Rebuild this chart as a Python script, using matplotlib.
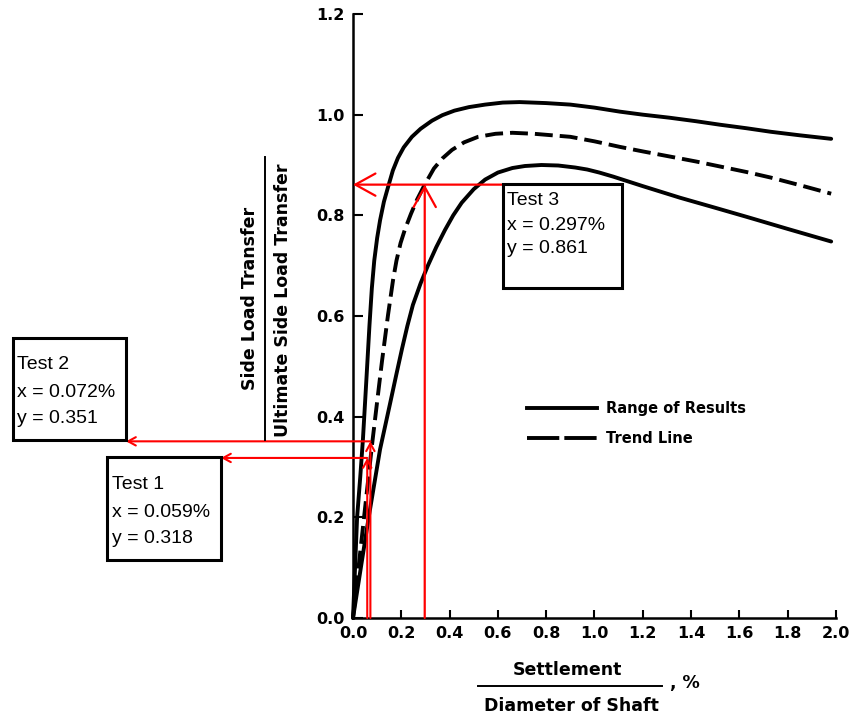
import matplotlib
matplotlib.use("Agg")
import matplotlib.pyplot as plt
from matplotlib.lines import Line2D
from matplotlib.patches import Rectangle

# ---------------- data ----------------
upper_x = [0, 0.017, 0.030, 0.041, 0.055, 0.068, 0.078, 0.088, 0.100, 0.112, 0.128, 0.145,
           0.165, 0.186, 0.21, 0.244, 0.28, 0.327, 0.37, 0.42, 0.48, 0.547, 0.62, 0.69,
           0.80, 0.90, 1.0, 1.105, 1.2, 1.31, 1.42, 1.52, 1.63, 1.73, 1.85, 1.98]
upper_y = [0, 0.20, 0.28, 0.354, 0.47, 0.58, 0.655, 0.71, 0.755, 0.79, 0.827, 0.856,
           0.889, 0.914, 0.935, 0.956, 0.972, 0.988, 0.999, 1.008, 1.015, 1.02, 1.024, 1.025,
           1.023, 1.02, 1.014, 1.006, 1.0, 0.994, 0.987, 0.980, 0.973, 0.966, 0.959, 0.952]

trend_x = [0, 0.04, 0.079, 0.10, 0.12, 0.145, 0.166, 0.18, 0.197, 0.215, 0.24, 0.265,
           0.297, 0.335, 0.37, 0.41, 0.46, 0.518, 0.59, 0.66, 0.75, 0.90, 1.0, 1.105,
           1.2, 1.31, 1.42, 1.52, 1.63, 1.73, 1.85, 1.98]
trend_y = [0, 0.175, 0.345, 0.43, 0.51, 0.602, 0.672, 0.71, 0.745, 0.772, 0.803, 0.831,
           0.861, 0.893, 0.913, 0.930, 0.945, 0.956, 0.962, 0.964, 0.962, 0.956, 0.947, 0.936,
           0.927, 0.917, 0.907, 0.897, 0.886, 0.875, 0.86, 0.843]

lower_x = [0, 0.065, 0.112, 0.153, 0.18, 0.203, 0.225, 0.248, 0.28, 0.31, 0.345, 0.381,
           0.415, 0.45, 0.50, 0.547, 0.60, 0.66, 0.712, 0.78, 0.85, 0.92, 0.97, 1.02,
           1.077, 1.2, 1.354, 1.5, 1.63, 1.8, 1.98]
lower_y = [0, 0.20, 0.335, 0.425, 0.485, 0.535, 0.58, 0.622, 0.665, 0.70, 0.737, 0.771,
           0.80, 0.825, 0.852, 0.871, 0.885, 0.894, 0.898, 0.90, 0.899, 0.895, 0.891, 0.885,
           0.877, 0.858, 0.835, 0.815, 0.797, 0.773, 0.748]

test_names = ["Test 1", "Test 2", "Test 3"]
test_x = [0.059, 0.072, 0.297]
test_y = [0.318, 0.351, 0.861]

x_ticks = [0.0, 0.2, 0.4, 0.6, 0.8, 1.0, 1.2, 1.4, 1.6, 1.8, 2.0]
y_ticks = [0.0, 0.2, 0.4, 0.6, 0.8, 1.0, 1.2]
legend_labels = ["Range of Results", "Trend Line"]

# ---------------- figure ----------------
W, H = 854, 721
fig = plt.figure(figsize=(W / 100, H / 100), dpi=100)
fig.patch.set_facecolor("white")

def fx(px):
    return px / W

def fy(py):
    return 1 - py / H

x0p, x1p, y0p, y1p = 353, 836, 618, 14
ax = fig.add_axes([fx(x0p), fy(y0p), (x1p - x0p) / W, (y0p - y1p) / H])
ax.set_xlim(0, 2.0)
ax.set_ylim(0, 1.2)
for s in ["top", "right"]:
    ax.spines[s].set_visible(False)
for s in ["left", "bottom"]:
    ax.spines[s].set_linewidth(1.8)
ax.set_xticks(x_ticks)
ax.set_yticks(y_ticks)
ax.set_xticklabels([f"{v:.1f}" for v in x_ticks])
ax.set_yticklabels([f"{v:.1f}" for v in y_ticks])
ax.tick_params(axis="x", direction="in", length=6, width=1.5, pad=6, labelsize=11.5)
ax.tick_params(axis="y", direction="in", length=7, width=1.5, pad=6, labelsize=11.5)
for lab in ax.get_xticklabels() + ax.get_yticklabels():
    lab.set_fontweight("bold")
    lab.set_family("DejaVu Sans")

LW = 2.8
ax.plot(upper_x, upper_y, color="black", lw=LW, solid_capstyle="round", solid_joinstyle="round", clip_on=False)
ax.plot(lower_x, lower_y, color="black", lw=LW, solid_capstyle="round", solid_joinstyle="round", clip_on=False)
ax.plot(trend_x, trend_y, color="black", lw=LW, dashes=(4.6, 1.8), dash_capstyle="butt",
        dash_joinstyle="round", clip_on=False)

# legend
h1 = Line2D([], [], color="black", lw=LW)
h2 = Line2D([], [], color="black", lw=LW, dashes=(8.3, 1.3))
leg = fig.legend([h1, h2], legend_labels, loc="upper left",
                 bbox_to_anchor=(fx(527), fy(401)), bbox_transform=fig.transFigure,
                 frameon=False, borderpad=0, borderaxespad=0, handlelength=4.8,
                 handletextpad=0.6, labelspacing=1.05,
                 prop={"family": "DejaVu Sans", "weight": "bold", "size": 10.5})

# ---------------- red test arrows ----------------
RED = "#ff0000"
small = dict(arrowstyle="->,head_length=0.55,head_width=0.3", color=RED, lw=1.5,
             shrinkA=0, shrinkB=0, mutation_scale=10)
big = dict(arrowstyle="->,head_length=1.45,head_width=0.8", color=RED, lw=1.6,
           shrinkA=0, shrinkB=0, mutation_scale=10)

box_edge_px = {"Test 1": 221, "Test 2": 126}
for name, tx, ty in zip(test_names, test_x, test_y):
    if name == "Test 3":
        ax.annotate("", xy=(tx, ty), xytext=(tx, 0), arrowprops=big, annotation_clip=False)
        ax.annotate("", xy=(0.0, ty), xytext=(0.745, ty), arrowprops=big, annotation_clip=False)
    else:
        ax.annotate("", xy=(tx, ty), xytext=(tx, 0), arrowprops=small, annotation_clip=False)
        # horizontal arrow toward the text box (outside the axes)
        disp = ax.transData.transform((tx, ty))
        tip = (fx(box_edge_px[name]), disp[1] / H)
        ax.annotate("", xy=tip, xycoords="figure fraction", xytext=(tx, ty), textcoords="data",
                    arrowprops=small, annotation_clip=False)

# ---------------- text boxes ----------------
boxes = {
    "Test 1": dict(rect=(107, 457, 221, 560), tx=112, base=(489, 517, 543)),
    "Test 2": dict(rect=(13, 338, 126, 440), tx=17, base=(369, 397, 423)),
    "Test 3": dict(rect=(503, 184, 622, 288), tx=507, base=(205, 230, 253)),
}
for name, tx, ty in zip(test_names, test_x, test_y):
    b = boxes[name]
    l, t, r, btm = b["rect"]
    fig.add_artist(Rectangle((fx(l), fy(btm)), (r - l) / W, (btm - t) / H,
                             transform=fig.transFigure, fill=True, facecolor="white",
                             edgecolor="black", lw=2.2, zorder=5))
    lines = [name, f"x = {tx:.3f}%", f"y = {ty:.3f}"]
    for s, bl in zip(lines, b["base"]):
        fig.text(fx(b["tx"]), fy(bl), s, va="baseline", ha="left", fontsize=14,
                 family="Liberation Sans", color="black", zorder=6)

# ---------------- axis labels (fractions) ----------------
lab_kw = dict(family="DejaVu Sans", fontweight="bold", fontsize=12.5, color="black")
fig.text(fx(250), fy(298), "Side Load Transfer", rotation=90, ha="center", va="center", **lab_kw)
fig.text(fx(283), fy(300), "Ultimate Side Load Transfer", rotation=90, ha="center", va="center", **lab_kw)
fig.add_artist(Line2D([fx(265), fx(265)], [fy(157), fy(440)], color="black", lw=1.4,
                      transform=fig.transFigure))

fig.text(fx(567), fy(670), "Settlement", ha="center", va="center", **lab_kw)
fig.text(fx(571), fy(706), "Diameter of Shaft", ha="center", va="center", **lab_kw)
fig.text(fx(670), fy(683), ", %", ha="left", va="center", **lab_kw)
fig.add_artist(Line2D([fx(478), fx(662)], [fy(686), fy(686)], color="black", lw=1.4,
                      transform=fig.transFigure))

fig.savefig("out.png", dpi=100, facecolor="white")
